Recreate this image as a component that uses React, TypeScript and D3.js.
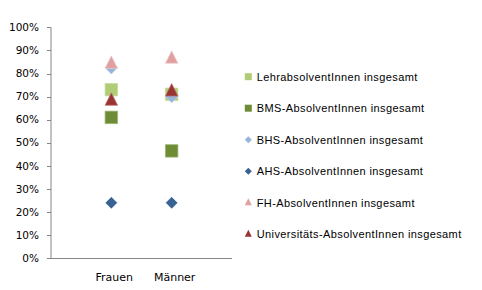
import React from "react";
import * as d3 from "d3";

const categories = ["Frauen", "Männer"];
const seriesNames = [
  "LehrabsolventInnen insgesamt",
  "BMS-AbsolventInnen insgesamt",
  "BHS-AbsolventInnen insgesamt",
  "AHS-AbsolventInnen insgesamt",
  "FH-AbsolventInnen insgesamt",
  "Universitäts-AbsolventInnen insgesamt",
];
const lehrValues = [0.73, 0.71];
const bmsValues = [0.61, 0.465];
const bhsValues = [0.825, 0.70];
const ahsValues = [0.24, 0.24];
const fhValues = [0.845, 0.867];
const uniValues = [0.685, 0.725];
const yTicks = [0, 0.1, 0.2, 0.3, 0.4, 0.5, 0.6, 0.7, 0.8, 0.9, 1.0];

const seriesValues = [lehrValues, bmsValues, bhsValues, ahsValues, fhValues, uniValues];
const shapes = ["square", "square", "diamond", "diamond", "triangle", "triangle"];
const fills = ["#B0CC74", "#6E8C36", "#97B4DA", "#386194", "#E0A09F", "#973533"];
const strokes = ["#C8DDA0", "#9DB574", "#C0D2EA", "#FFFFFF", "#F0CCCC", "#C07070"];

const W = 482;
const H = 290;
const plotLeft = 51;
const plotRight = 232;
const plotTop = 27.3;
const plotBottom = 258.3;

function markerPath(shape: string, size: number): string {
  const h = size / 2;
  if (shape === "square") return `M${-h},${-h}H${h}V${h}H${-h}Z`;
  if (shape === "diamond") return `M0,${-h}L${h},0L0,${h}L${-h},0Z`;
  return `M0,${-h - 1}L${h},${h - 1}L${-h},${h - 1}Z`;
}

export default function App() {
  const x = d3.scalePoint<string>().domain(categories).range([plotLeft, plotRight]).padding(1);
  const y = d3.scaleLinear().domain([0, 1]).range([plotBottom, plotTop]);
  const fmt = d3.format(".0%");
  const legendX = 248.3;
  const legendY0 = 76.7;
  const legendStep = 31.5;

  return (
    <svg width={W} height={H} style={{ position: "absolute", left: 0, top: 0, background: "#fff" }}>
      {/* y axis */}
      <line x1={plotLeft} x2={plotLeft} y1={plotTop} y2={plotBottom} stroke="#868686" strokeWidth={1} />
      {yTicks.map((t) => (
        <g key={t}>
          <line x1={plotLeft - 4} x2={plotLeft} y1={Math.round(y(t)) + 0.5} y2={Math.round(y(t)) + 0.5} stroke="#868686" />
          <text
            x={39}
            y={y(t)}
            dy="0.35em"
            textAnchor="end"
            fontFamily="DejaVu Sans"
            fontSize={10.5}
            fill="#000"
          >
            {fmt(t)}
          </text>
        </g>
      ))}
      {/* x axis */}
      <line x1={plotLeft} x2={plotRight} y1={Math.round(plotBottom) + 0.5} y2={Math.round(plotBottom) + 0.5} stroke="#868686" />
      {categories.map((c) => (
        <text
          key={c}
          x={(x(c) as number) + 3}
          y={281}
          textAnchor="middle"
          fontFamily="DejaVu Sans"
          fontSize={11}
          fill="#000"
        >
          {c}
        </text>
      ))}
      {/* markers */}
      {seriesValues.map((vals, si) => (
        <g key={si}>
          {vals.map((v, ci) => (
            <path
              key={ci}
              d={markerPath(shapes[si], 12.5)}
              transform={`translate(${x(categories[ci])},${y(v)})`}
              fill={fills[si]}
              stroke={strokes[si]}
              strokeWidth={0.75}
            />
          ))}
        </g>
      ))}
      {/* legend */}
      {seriesNames.map((name, i) => (
        <g key={name} transform={`translate(0,${legendY0 + i * legendStep})`}>
          <path d={markerPath(shapes[i], 7)} transform={`translate(${legendX},0)`} fill={fills[i]} />
          <text x={256.7} y={0} dy="0.35em" fontFamily="Liberation Sans" fontSize={11} fill="#000" letterSpacing={0.4}>
            {name}
          </text>
        </g>
      ))}
    </svg>
  );
}
